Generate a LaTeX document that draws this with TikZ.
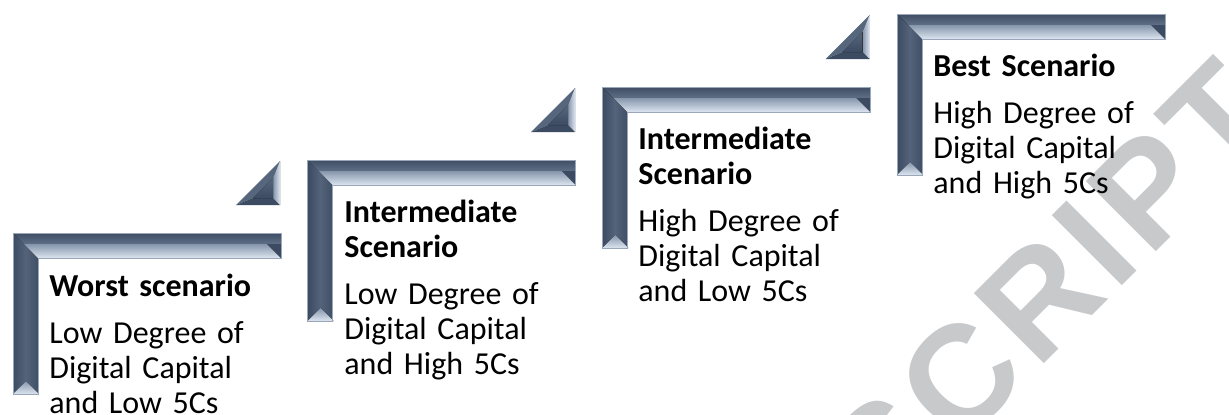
\documentclass[tikz,border=0pt]{standalone}
\usepackage{fontspec}
\setmainfont{Carlito}
\newfontfamily\markfont[LetterSpace=5]{Liberation Sans}

\definecolor{slatedark}{HTML}{3C4B61}
\definecolor{slatemid}{HTML}{56667D}
\definecolor{slatesoft}{HTML}{8595AB}
\definecolor{slatelight}{HTML}{DCE5F0}
\definecolor{edgegrey}{HTML}{9AA7B8}
\definecolor{markgrey}{HTML}{C8C9CB}

\tikzset{
    halfframe/.pic={
        %% left bar
        \fill[left color=slatedark, right color=slatedark!85!slatemid, middle color=slatemid!90!slatedark]
            (0,0) -- (25,25) -- (25,161) -- (0,161) -- cycle;
        \fill[top color=slatesoft, bottom color=slatelight] (0,161) -- (13,148) -- (26,161) -- cycle;
        %% top bar
        \fill[top color=slatedark!90!slatemid, bottom color=slatemid!80!slatesoft]
            (0,0) -- (268,0) -- (268,11) -- (11,11) -- cycle;
        \fill[top color=slatesoft, bottom color=slatelight]
            (11,11) -- (254,11) -- (268,25) -- (25,25) -- cycle;
        \fill[slatedark] (254,11) -- (268,11) -- (268,25) -- cycle;
        \draw[edgegrey, line width=0.4pt]
            (0,0) -- (268,0) -- (268,25) -- (25,25) -- (25,161) -- (0,161) -- cycle;
    },
    bevtri/.pic={
        \fill[slatemid] (-44,0) -- (0,-44) -- (-7,-27) -- (-27,-7) -- cycle;
        \fill[slatedark] (-44,0) -- (0,0) -- (-7,-7) -- (-27,-7) -- cycle;
        \fill[left color=slatesoft, right color=slatelight] (0,-44) -- (0,0) -- (-7,-7) -- (-7,-27) -- cycle;
        \fill[top color=slatemid, bottom color=slatedark] (-27,-7) -- (-7,-7) -- (-7,-27) -- cycle;
    },
    steptext/.style={anchor=base west, inner sep=0pt, text width=130pt, align=left,
        font=\fontsize{16}{17.5}\selectfont}
}

\begin{document}
\begin{tikzpicture}[x=0.5pt, y=-0.5pt]
    %% Background
    \useasboundingbox (0,0) rectangle (1229,414);

    %% Watermark
    \node[markgrey, font=\markfont\bfseries\fontsize{72}{72}\selectfont, rotate=45, inner sep=0pt]
        (mark) at (1050,288) {SCRIPT};

    %% Steps
    \pic at (13,233) {halfframe};
    \pic at (307.7,160) {halfframe};
    \pic at (602.4,87) {halfframe};
    \pic at (897.1,14) {halfframe};

    \pic at (280,205) {bevtri};
    \pic at (575,132) {bevtri};
    \pic at (869.5,59) {bevtri};

    %% Texts
    \node[steptext] (worst) at (49,296)
        {\textbf{Worst scenario}\\[6pt]Low Degree of\\Digital Capital\\and Low 5Cs};
    \node[steptext] (midlow) at (344,222)
        {\textbf{Intermediate\\Scenario}\\[6pt]Low Degree of\\Digital Capital\\and High 5Cs};
    \node[steptext] (midhigh) at (638,149)
        {\textbf{Intermediate\\Scenario}\\[6pt]High Degree of\\Digital Capital\\and Low 5Cs};
    \node[steptext] (best) at (933,76)
        {\textbf{Best Scenario}\\[6pt]High Degree of\\Digital Capital\\and High 5Cs};

\end{tikzpicture}
\end{document}
